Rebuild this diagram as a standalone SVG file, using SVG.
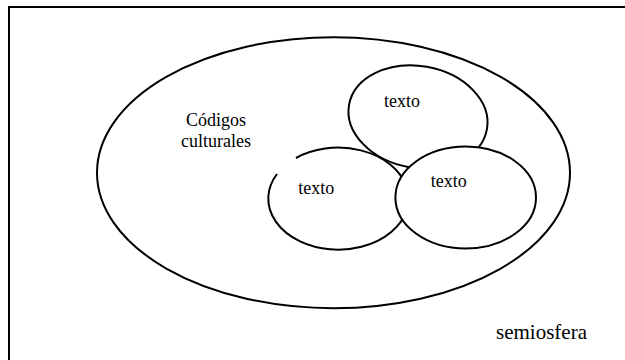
<svg xmlns="http://www.w3.org/2000/svg" width="625" height="360" viewBox="0 0 625 360">
  <style>
    .shape { stroke: #000; stroke-width: 2; }
  </style>
  <rect x="0" y="0" width="625" height="360" fill="#fff"/>
  <g id="frame">
    <rect class="shape" x="9" y="7" width="660" height="400" fill="none"/>
  </g>
  <g id="codigos-culturales">
    <ellipse class="shape" cx="333.5" cy="172.7" rx="236.5" ry="135.5" fill="none"/>
  </g>
  <g id="texto-top">
    <ellipse class="shape" cx="418" cy="117" rx="70" ry="51" fill="#fff" transform="rotate(10 418 117)"/>
  </g>
  <g id="texto-left">
    <path class="shape" d="M296,158 A70,51 0 1,1 277,174" fill="#fff"/>
  </g>
  <g id="texto-right">
    <ellipse class="shape" cx="465.7" cy="197.5" rx="70.3" ry="51" fill="#fff"/>
  </g>
  <text x="496" y="339" style="font-family: 'Liberation Serif'" font-size="21">semiosfera</text>
  <text x="216" y="126" style="font-family: 'Liberation Serif'" font-size="18" text-anchor="middle">Códigos</text>
  <text x="216" y="146.7" style="font-family: 'Liberation Serif'" font-size="18" text-anchor="middle">culturales</text>
  <text x="384" y="106.7" style="font-family: 'Liberation Serif'" font-size="18">texto</text>
  <text x="298.3" y="194" style="font-family: 'Liberation Serif'" font-size="18">texto</text>
  <text x="430.7" y="186.7" style="font-family: 'Liberation Serif'" font-size="18">texto</text>
</svg>
